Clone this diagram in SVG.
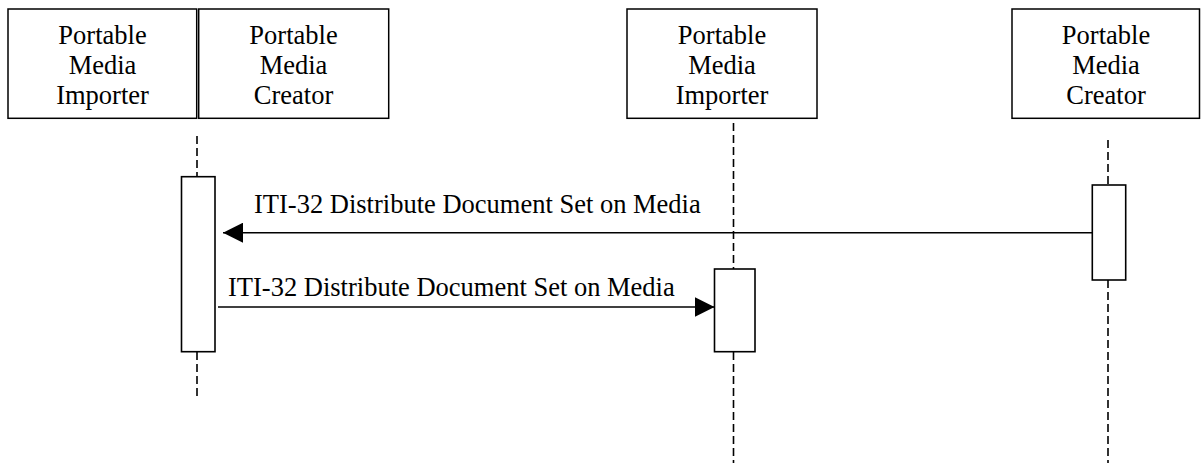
<svg xmlns="http://www.w3.org/2000/svg" width="1201" height="463" viewBox="0 0 1201 463" font-family="'Liberation Serif', Tinos, 'Times New Roman', Times, 'DejaVu Serif', serif">
<style>
.box{fill:#fff;stroke:#000;stroke-width:1.5}
.act{fill:#fff;stroke:#000;stroke-width:1.6}
.life{stroke:#000;stroke-width:1.6;stroke-dasharray:8,4;fill:none}
.msg{stroke:#000;stroke-width:1.6;fill:none}
.t{font-family:'Liberation Serif', Tinos, 'Times New Roman', Times, 'DejaVu Serif', serif;font-size:26.5px;fill:#000}
.c{text-anchor:middle}
</style>
<defs>
<marker id="ah" markerUnits="userSpaceOnUse" markerWidth="20" markerHeight="20" refX="20" refY="10" orient="auto">
<path d="M0,0 L20,10 L0,20 z" fill="#000"/>
</marker>
</defs>
<g id="lifelines">
<line class="life" x1="197" y1="136" x2="197" y2="177"/>
<line class="life" x1="197" y1="352" x2="197" y2="400"/>
<line class="life" x1="733.5" y1="123" x2="733.5" y2="269"/>
<line class="life" x1="733.5" y1="352" x2="733.5" y2="463"/>
<line class="life" x1="1108" y1="140" x2="1108" y2="185"/>
<line class="life" x1="1108" y1="280" x2="1108" y2="463"/>
</g>
<g id="pmi1">
<rect class="box" x="8" y="9" width="188.7" height="109.3"/>
<text class="t c" x="102.5" y="44">Portable</text>
<text class="t c" x="102.5" y="74">Media</text>
<text class="t c" x="102.5" y="104">Importer</text>
</g>
<g id="pmc1">
<rect class="box" x="198.7" y="9" width="190" height="109.3"/>
<text class="t c" x="293.5" y="44">Portable</text>
<text class="t c" x="293.5" y="74">Media</text>
<text class="t c" x="293.5" y="104">Creator</text>
</g>
<g id="pmi2">
<rect class="box" x="627" y="9" width="190" height="109.3"/>
<text class="t c" x="722" y="44">Portable</text>
<text class="t c" x="722" y="74">Media</text>
<text class="t c" x="722" y="104">Importer</text>
</g>
<g id="pmc2">
<rect class="box" x="1012" y="9" width="187.5" height="109.3"/>
<text class="t c" x="1106" y="44">Portable</text>
<text class="t c" x="1106" y="74">Media</text>
<text class="t c" x="1106" y="104">Creator</text>
</g>
<g id="act1"><rect class="act" x="181.5" y="176.7" width="33.5" height="175"/></g>
<g id="act3"><rect class="act" x="714.5" y="269" width="40.5" height="82.7"/></g>
<g id="act4"><rect class="act" x="1092.3" y="185" width="33.4" height="95"/></g>
<g id="connectors">
<line class="msg" x1="1092.3" y1="232.7" x2="223" y2="232.7" marker-end="url(#ah)"/>
<text class="t" x="254" y="213.3">ITI-32 Distribute Document Set on Media</text>
<line class="msg" x1="218" y1="307" x2="714.5" y2="307" marker-end="url(#ah)"/>
<text class="t" x="228" y="295.7">ITI-32 Distribute Document Set on Media</text>
</g>
</svg>
